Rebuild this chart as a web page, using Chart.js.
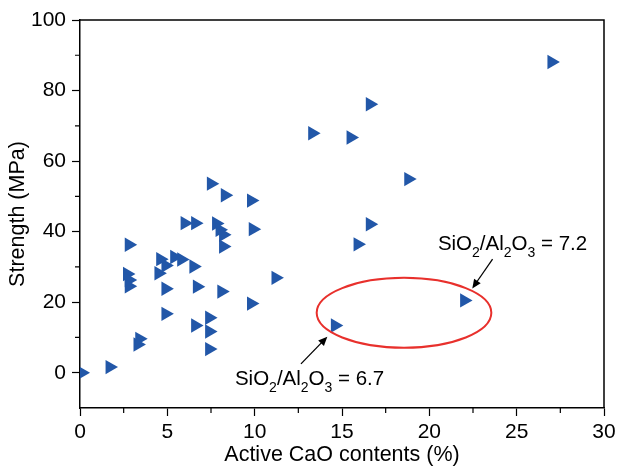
<!DOCTYPE html>
<html lang="en">
<head>
  <meta charset="UTF-8">
  <title>Strength vs Active CaO</title>
  <script src="https://cdn.jsdelivr.net/npm/chart.js"></script>
  <style>
    body { margin: 0; background: #fff; }
    #wrap { width: 617px; height: 468px; }
  </style>
</head>
<body>
  <div id="wrap"><canvas id="strengthChart" width="617" height="468"></canvas></div>

  <script>
    // Active CaO contents (%) and strength (MPa)
    const cao = [0.1, 1.7, 3.3, 3.4, 2.8, 2.7, 2.8, 2.8, 4.5, 4.6, 4.9, 5.4, 5.8, 6.5,
                 4.9, 4.9, 6.7, 6.6, 7.4, 7.4, 7.4, 8.1, 6.0, 6.6, 7.8, 8.0, 8.2, 8.2,
                 7.5, 8.3, 9.8, 9.9, 9.8, 11.2, 13.3, 15.5, 16.6, 18.8, 16.6, 15.9,
                 22.0, 14.6, 27.0];
    const strength = [0.0, 1.6, 8.0, 9.6, 36.3, 28.0, 26.3, 24.5, 28.2, 32.2, 30.4, 32.8, 32.1, 30.1,
                      23.8, 16.7, 24.4, 13.4, 15.6, 11.7, 6.7, 23.0, 42.4, 42.4, 42.3, 40.5, 39.1, 35.8,
                      53.6, 50.3, 48.8, 40.7, 19.6, 26.9, 67.9, 66.7, 76.1, 54.9, 42.1, 36.4,
                      20.5, 13.4, 88.1];

    const xTicks = [0, 5, 10, 15, 20, 25, 30];
    const yTicks = [0, 20, 40, 60, 80, 100];
    const xMinor = [2.5, 7.5, 12.5, 17.5, 22.5, 27.5];
    const yMinor = [10, 30, 50, 70, 90];

    // annotations in data units
    const ellipse = { cx: 18.55, cy: 17.0, rx: 5.0, ry: 9.9 };
    const arrows = [
      { from: [12.65, 2.5], to: [14.16, 10.2] },
      { from: [23.62, 32.2], to: [22.46, 23.9] }
    ];
    const notes = [
      { x: 8.87, y: -3.5, value: '6.7' },
      { x: 20.49, y: 34.8, value: '7.2' }
    ];

    const FONT = "'Liberation Sans', Arial, sans-serif";
    Chart.defaults.font.family = FONT;
    Chart.defaults.color = '#000';

    const points = cao.map((x, i) => ({ x, y: strength[i] }));

    const decorations = {
      id: 'decorations',
      afterDraw(chart) {
        const { ctx, chartArea: a, scales: { x, y } } = chart;
        ctx.save();
        // frame top/right
        ctx.strokeStyle = '#000';
        ctx.lineWidth = 1.5;
        ctx.beginPath();
        ctx.moveTo(a.left, a.top);
        ctx.lineTo(a.right, a.top);
        ctx.lineTo(a.right, a.bottom);
        ctx.stroke();

        // minor ticks
        ctx.lineWidth = 1.2;
        ctx.beginPath();
        xMinor.forEach(v => {
          const px = x.getPixelForValue(v);
          ctx.moveTo(px, a.bottom);
          ctx.lineTo(px, a.bottom + 5);
        });
        yMinor.forEach(v => {
          const py = y.getPixelForValue(v);
          ctx.moveTo(a.left - 5, py);
          ctx.lineTo(a.left, py);
        });
        ctx.stroke();

        // red ellipse
        const cx = x.getPixelForValue(ellipse.cx), cy = y.getPixelForValue(ellipse.cy);
        const rx = x.getPixelForValue(ellipse.cx + ellipse.rx) - cx;
        const ry = cy - y.getPixelForValue(ellipse.cy + ellipse.ry);
        ctx.strokeStyle = '#e8302c';
        ctx.lineWidth = 2;
        ctx.beginPath();
        ctx.ellipse(cx, cy, rx, ry, 0, 0, Math.PI * 2);
        ctx.stroke();

        // arrows
        ctx.strokeStyle = '#000';
        ctx.fillStyle = '#000';
        ctx.lineWidth = 1.3;
        arrows.forEach(ar => {
          const x1 = x.getPixelForValue(ar.from[0]), y1 = y.getPixelForValue(ar.from[1]);
          const x2 = x.getPixelForValue(ar.to[0]), y2 = y.getPixelForValue(ar.to[1]);
          const ang = Math.atan2(y2 - y1, x2 - x1);
          const hl = 9, hw = 4;
          ctx.beginPath();
          ctx.moveTo(x1, y1);
          ctx.lineTo(x2 - Math.cos(ang) * hl * 0.8, y2 - Math.sin(ang) * hl * 0.8);
          ctx.stroke();
          ctx.beginPath();
          ctx.moveTo(x2, y2);
          ctx.lineTo(x2 - Math.cos(ang) * hl - Math.sin(ang) * hw, y2 - Math.sin(ang) * hl + Math.cos(ang) * hw);
          ctx.lineTo(x2 - Math.cos(ang) * hl + Math.sin(ang) * hw, y2 - Math.sin(ang) * hl - Math.cos(ang) * hw);
          ctx.closePath();
          ctx.fill();
        });

        // SiO2/Al2O3 labels with subscripts
        ctx.textBaseline = 'alphabetic';
        ctx.textAlign = 'left';
        notes.forEach(n => {
          let px = x.getPixelForValue(n.x);
          const py = y.getPixelForValue(n.y);
          const parts = [['SiO', 0], ['2', 1], ['/Al', 0], ['2', 1], ['O', 0], ['3', 1], [' = ' + n.value, 0]];
          parts.forEach(([t, sub]) => {
            ctx.font = sub ? '14px ' + FONT : '20.5px ' + FONT;
            ctx.fillText(t, px, sub ? py + 7 : py);
            px += ctx.measureText(t).width;
          });
        });
        ctx.restore();
      }
    };

    new Chart(document.getElementById('strengthChart'), {
      type: 'scatter',
      data: {
        datasets: [{
          data: points,
          pointStyle: 'triangle',
          rotation: 90,
          pointRadius: 8.3,
          pointHoverRadius: 8.3,
          backgroundColor: '#2257a8',
          borderWidth: 0
        }]
      },
      options: {
        responsive: false,
        animation: false,
        layout: { padding: { top: 20, right: 13, left: 0, bottom: 0 } },
        plugins: { legend: { display: false }, tooltip: { enabled: false } },
        scales: {
          x: {
            type: 'linear',
            min: 0, max: 30,
            afterBuildTicks: s => { s.ticks = xTicks.map(v => ({ value: v })); },
            afterFit: s => { s.height = 60; s.paddingLeft = 0; s.paddingRight = 0; },
            grid: { drawOnChartArea: false, drawTicks: true, tickLength: 8, tickWidth: 1.2, tickColor: '#000' },
            border: { display: true, color: '#000', width: 1.5 },
            ticks: { font: { size: 21 }, padding: 4, maxRotation: 0 },
            title: { display: true, text: 'Active CaO contents (%)', font: { size: 21.5 }, padding: { bottom: 0 } }
          },
          y: {
            type: 'linear',
            min: -10, max: 100,
            afterBuildTicks: s => { s.ticks = yTicks.map(v => ({ value: v })); },
            afterFit: s => { s.width = 80; s.paddingTop = 0; s.paddingBottom = 0; },
            grid: { drawOnChartArea: false, drawTicks: true, tickLength: 8, tickWidth: 1.2, tickColor: '#000' },
            border: { display: true, color: '#000', width: 1.5 },
            ticks: { font: { size: 21 }, padding: 6 },
            title: { display: true, text: 'Strength (MPa)', font: { size: 21.5 }, padding: { top: 5 } }
          }
        }
      },
      plugins: [decorations]
    });
  </script>
</body>
</html>
